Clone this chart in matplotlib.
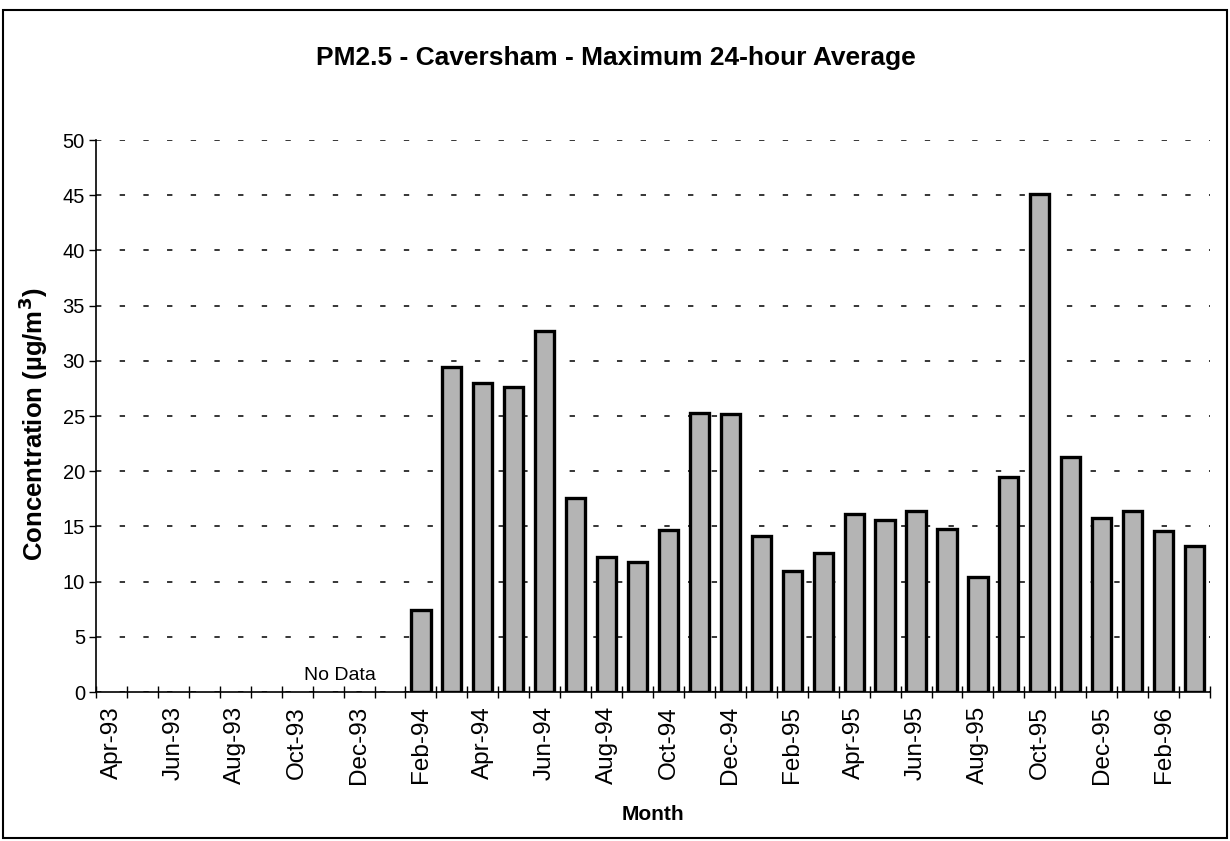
import matplotlib
matplotlib.use("Agg")
import matplotlib.pyplot as plt
from matplotlib.patches import Rectangle
import numpy as np

plt.rcParams['font.family'] = ['Liberation Sans', 'DejaVu Sans']

# months Apr-93 .. Mar-96
months = ['Apr-93', 'May-93', 'Jun-93', 'Jul-93', 'Aug-93', 'Sep-93',
          'Oct-93', 'Nov-93', 'Dec-93', 'Jan-94', 'Feb-94', 'Mar-94',
          'Apr-94', 'May-94', 'Jun-94', 'Jul-94', 'Aug-94', 'Sep-94',
          'Oct-94', 'Nov-94', 'Dec-94', 'Jan-95', 'Feb-95', 'Mar-95',
          'Apr-95', 'May-95', 'Jun-95', 'Jul-95', 'Aug-95', 'Sep-95',
          'Oct-95', 'Nov-95', 'Dec-95', 'Jan-96', 'Feb-96', 'Mar-96']

# max 24-hour PM2.5 (ug/m3), nan = no data
pm25 = [np.nan] * 10 + [7.4, 29.4, 28.0, 27.6, 32.7, 17.6, 12.2, 11.8,
                        14.7, 25.3, 25.2, 14.1, 11.0, 12.6, 16.1, 15.6,
                        16.4, 14.8, 10.4, 19.5, 45.1, 21.3, 15.8, 16.4,
                        14.6, 13.2]

yticks = [0, 5, 10, 15, 20, 25, 30, 35, 40, 45, 50]

W, H = 1230, 841
fig = plt.figure(figsize=(W / 100, H / 100), dpi=100)
ax = fig.add_axes([96 / W, 1 - 692 / H, (1210 - 96) / W, (692 - 140) / H])

x = np.arange(len(months))
ax.bar(x, pm25, width=0.62, color='#b4b4b4', edgecolor='black', linewidth=2.4, zorder=3)

ax.set_xlim(-0.5, len(months) - 0.5)
ax.set_ylim(0, 50)
ax.set_yticks(yticks)
ax.tick_params(axis='y', direction='out', length=5, width=1, pad=3, labelsize=14.5)

# ticks on month boundaries, labels every other month
ax.set_xticks(np.arange(-0.5, len(months)), minor=False)
ax.set_xticklabels([])
ax.set_xticks(x[::2], minor=True)
ax.set_xticklabels(months[::2], minor=True, rotation=90, fontsize=17.5)
ax.tick_params(axis='x', which='major', direction='inout', length=9, width=1)
ax.tick_params(axis='x', which='minor', length=0, pad=10)

ax.grid(axis='y', color='black', linestyle=(0, (3.5, 12)), linewidth=1.1, zorder=0)
for s in ['top', 'right']:
    ax.spines[s].set_visible(False)
for s in ['left', 'bottom']:
    ax.spines[s].set_linewidth(1.2)
    ax.spines[s].set_zorder(4)

ax.text(7.39, 1.5, 'No Data', fontsize=14, ha='center', va='center')

ax.set_xlabel('Month', fontsize=15, fontweight='bold')
ax.xaxis.set_label_coords(0.5, (692 - 805) / 552)
ax.set_ylabel('Concentration (\u00b5g/m$^\\mathbf{3}$)', fontsize=18.5, fontweight='bold')
ax.yaxis.set_label_coords((50 - 96) / 1114, 0.485)

fig.text(616 / W, 1 - 58 / H, 'PM2.5 - Caversham - Maximum 24-hour Average',
         fontsize=19, fontweight='bold', ha='center', va='center')

fig.patches.append(Rectangle((3 / W, 3 / H), 1224 / W, 828 / H, transform=fig.transFigure,
                             fill=False, edgecolor='black', linewidth=1.5))

fig.savefig('out.png', dpi=100)
